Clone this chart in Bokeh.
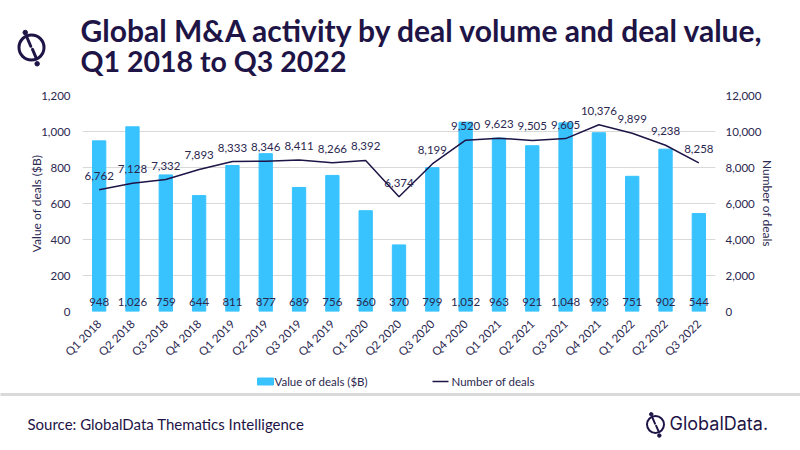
from math import pi

from bokeh.core.properties import value
from bokeh.embed import file_html
from bokeh.models import (ColumnDataSource, FactorRange, Label, LinearAxis,
                          NumeralTickFormatter, Range1d)
from bokeh.plotting import figure
from bokeh.resources import INLINE

quarters = ["Q1 2018", "Q2 2018", "Q3 2018", "Q4 2018", "Q1 2019", "Q2 2019", "Q3 2019",
            "Q4 2019", "Q1 2020", "Q2 2020", "Q3 2020", "Q4 2020", "Q1 2021", "Q2 2021",
            "Q3 2021", "Q4 2021", "Q1 2022", "Q2 2022", "Q3 2022"]
deal_value = [948, 1026, 759, 644, 811, 877, 689, 756, 560, 370, 799, 1052, 963, 921,
              1048, 993, 751, 902, 544]
deal_count = [6762, 7128, 7332, 7893, 8333, 8346, 8411, 8266, 8392, 6374, 8199, 9520,
              9623, 9505, 9605, 10376, 9899, 9238, 8258]

value_ticks = [0, 200, 400, 600, 800, 1000, 1200]
count_ticks = [0, 2000, 4000, 6000, 8000, 10000, 12000]

W = 800
FONT = "Lato"
INK = "#2B2850"
NAVY = "#1E1446"
BLUE = "#38C3FF"


def blank(height):
    # a bare strip: its frame fills the whole figure, y grows downwards
    f = figure(width=W, height=height, x_range=Range1d(0, W), y_range=Range1d(height, 0),
               output_backend="svg", toolbar_location=None, min_border=0,
               x_axis_type=None, y_axis_type=None)
    f.grid.grid_line_color = None
    f.outline_line_color = None
    return f


def logo(f, cx, cy, r, lw):
    # the GlobalData mark: a ring cut by a broken slash with a dot at each end
    f.circle(x=[cx], y=[cy], radius=r, fill_color=None, line_color=NAVY, line_width=lw)
    f.segment(x0=[cx - 0.36 * r, cx + 0.08 * r], y0=[cy - 0.8 * r, cy + 0.15 * r],
              x1=[cx - 0.06 * r, cx + 0.38 * r], y1=[cy - 0.1 * r, cy + 0.85 * r],
              line_color=NAVY, line_width=lw, line_cap="round")
    f.scatter(x=[cx - 0.5 * r, cx + 0.45 * r], y=[cy - 1.2 * r, cy + 1.3 * r],
              size=lw + 1.5, color=NAVY)


# ---- header ----
head = blank(90)
head.add_layout(Label(x=80, y=29, text="Global M&A activity by deal volume and deal value,",
                      text_font=FONT, text_font_style="bold", text_font_size="30px",
                      text_color=NAVY, text_baseline="alphabetic"))
head.add_layout(Label(x=80, y=60, text="Q1 2018 to Q3 2022",
                      text_font=FONT, text_font_style="bold", text_font_size="28.5px",
                      text_color=NAVY, text_baseline="alphabetic"))
logo(head, 31, 47, 12.5, 3)

# ---- chart ----
src = ColumnDataSource(data=dict(
    q=quarters,
    v=deal_value,
    n=deal_count,
    v_lbl=["{:,}".format(x) for x in deal_value],
    n_lbl=["{:,}".format(x) for x in deal_count],
    zero=[0] * len(quarters),
))

p = figure(width=W, height=275, x_range=FactorRange(*quarters, range_padding=0),
           y_range=Range1d(0, 1200), output_backend="svg", toolbar_location=None,
           min_border_left=82, min_border_right=85, min_border_top=5,
           min_border_bottom=51)
p.extra_y_ranges = {"deals": Range1d(0, 12000)}
p.outline_line_color = None

p.vbar(x="q", top="v", width=0.4, color=BLUE, source=src)
p.line(x="q", y="n", y_range_name="deals", line_color=NAVY, line_width=1.5, source=src)

p.text(x="q", y="zero", text="v_lbl", source=src, text_align="center",
       text_baseline="middle", y_offset=-10, text_font=value(FONT),
       text_font_size="11.5px", text_color=INK)
p.text(x="q", y="n", text="n_lbl", source=src, y_range_name="deals", text_align="center",
       text_baseline="middle", y_offset=-14, text_font=value(FONT),
       text_font_size="11.5px", text_color=INK)

p.xgrid.grid_line_color = None
p.ygrid.grid_line_color = "#D9D9D9"
p.ygrid.ticker = value_ticks
p.yaxis.ticker = value_ticks
p.yaxis.formatter = NumeralTickFormatter(format="0,0")
p.yaxis.axis_label = "Value of deals ($B)"

right = LinearAxis(y_range_name="deals", ticker=count_ticks,
                   formatter=NumeralTickFormatter(format="0,0"),
                   axis_label="Number of deals")
p.add_layout(right, "right")

for ax in [p.xaxis[0], p.yaxis[0], right]:
    ax.axis_line_color = None
    ax.major_tick_line_color = None
    ax.minor_tick_line_color = None
    ax.major_tick_out = 0
    ax.minor_tick_out = 0
    ax.major_label_text_font = FONT
    ax.major_label_text_font_size = "11.5px"
    ax.major_label_text_color = INK
    ax.axis_label_text_font = FONT
    ax.axis_label_text_font_size = "12px"
    ax.axis_label_text_font_style = "normal"
    ax.axis_label_text_color = INK
p.yaxis[0].major_label_standoff = 12
p.yaxis[0].axis_label_standoff = -6
right.major_label_standoff = 10
right.axis_label_standoff = -4
p.xaxis.major_label_orientation = pi / 4
p.xaxis.major_label_standoff = 10

# ---- footer: legend keys, rule, source, logo ----
foot = blank(85)
foot.rect(x=[265], y=[16], width=16, height=7, color=BLUE)
foot.segment(x0=[432], y0=[16], x1=[448], y1=[16], line_color=NAVY, line_width=1.5)
foot.add_layout(Label(x=274, y=16, text="Value of deals ($B)", text_font=FONT,
                      text_font_size="11.5px", text_color=INK, text_baseline="middle"))
foot.add_layout(Label(x=451, y=16, text="Number of deals", text_font=FONT,
                      text_font_size="11.5px", text_color=INK, text_baseline="middle"))
foot.rect(x=[400], y=[29], width=800, height=2, color="#D9D9D9")
foot.add_layout(Label(x=27, y=58, text="Source: GlobalData Thematics Intelligence",
                      text_font=FONT, text_font_size="15px", text_color=NAVY,
                      text_baseline="middle"))
logo(foot, 655, 59, 8.5, 2)
foot.add_layout(Label(x=669, y=58, text="GlobalData.", text_font="Inter",
                      text_font_size="18px", text_color=NAVY, text_baseline="middle"))

# three separate roots stacked on the page, so their frames are not aligned
open("out.html", "w").write(file_html([head, p, foot], INLINE))
